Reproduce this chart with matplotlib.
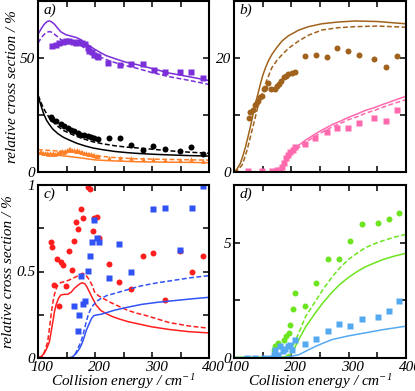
import matplotlib
matplotlib.use("Agg")
import matplotlib.pyplot as plt
from matplotlib.ticker import MultipleLocator, FixedLocator
from matplotlib.transforms import ScaledTranslation

plt.rcParams["font.family"] = ["Liberation Serif", "DejaVu Serif"]
plt.rcParams["font.style"] = "italic"
plt.rcParams["mathtext.fontset"] = "custom"
plt.rcParams["mathtext.rm"] = "Liberation Serif:italic"
plt.rcParams["mathtext.it"] = "Liberation Serif:italic"

# ---------------- panel a ----------------
a_purple_E = [124.6, 131.6, 137.4, 143, 149, 155, 161, 167, 172.5, 178, 183, 187, 190, 195, 199, 203, 206,
              223, 243, 263, 284, 304, 322, 349, 368, 389]
a_purple_v = [55.4, 55.8, 56.4, 56.8, 57.3, 57.6, 56.8, 56.7, 57.0, 56.5, 56.1, 54.2, 53.2, 52.5, 51.4, 50.9, 50.6,
              47.8, 47.0, 47.4, 47.4, 44.6, 44.0, 43.7, 44.0, 41.1]
a_purple_sol_E = [100, 106, 111, 116, 120, 124, 129, 134, 140, 149, 158, 167, 174, 181, 190, 199, 210, 220, 240,
                  255, 272, 300, 330, 365, 400]
a_purple_sol_v = [60.4, 63.0, 64.8, 66.0, 66.3, 65.8, 64.8, 63.2, 61.5, 60.2, 59.6, 59.0, 58.2, 56.8, 55.4, 53.9,
                  52.3, 51.0, 49.3, 48.1, 47.2, 45.4, 43.4, 41.8, 40.1]
a_purple_das_E = [100, 106, 111, 116, 120, 124, 129, 135, 141, 155, 165, 173, 184, 192, 202, 213, 225, 240, 255,
                  272, 300, 330, 365, 400]
a_purple_das_v = [56.5, 59.0, 60.4, 61.3, 61.6, 61.3, 60.4, 59.2, 57.9, 56.8, 56.4, 56.0, 53.9, 52.5, 51.0, 50.0,
                  48.8, 47.6, 46.6, 45.6, 43.6, 41.8, 40.2, 38.4]

a_black_E = [122.8, 125, 131, 140, 146, 152, 158, 164, 170, 175, 181, 187, 193, 199, 205, 224, 244, 263, 284, 302,
             323, 349, 368, 389]
a_black_v = [24.1, 23.4, 22.2, 21.2, 20.2, 19.3, 18.6, 17.9, 16.9, 16.4, 16.1, 15.8, 15.4, 15.0, 14.4, 14.7, 14.7,
             11.8, 9.6, 11.3, 10.3, 9.2, 10.9, 7.7]
a_black_sol_E = [100, 103, 106, 110, 115, 120, 126, 135, 144, 155, 168, 183, 197, 213, 235, 256, 272, 300, 330, 365, 400]
a_black_sol_v = [33.6, 31.0, 28.5, 25.5, 22.7, 20.8, 18.8, 16.8, 15.3, 14.0, 12.6, 11.4, 10.5, 9.8, 9.0, 8.5, 8.2,
                 7.8, 7.5, 7.2, 7.0]
a_black_das_v = [33.6, 32.0, 30.0, 27.8, 25.6, 23.8, 22.0, 20.0, 18.3, 17.0, 15.6, 14.3, 13.2, 12.4, 11.5, 10.9,
                 10.6, 10.0, 9.3, 8.7, 8.2]

a_orange_E = [103, 106, 109, 112, 115, 118, 121, 124, 127, 130, 133, 136, 139, 142, 145, 148, 151, 154, 157, 160,
              163, 166, 169, 172, 175, 178, 181, 184, 187, 190, 193, 196, 199, 202, 205,
              224, 244, 263, 284, 302, 323, 349, 368, 389]
a_orange_v = [8.8, 8.6, 8.4, 8.5, 8.3, 8.1, 8.2, 8.0, 8.3, 8.1, 8.4, 8.6, 8.9, 9.1, 8.9, 9.3, 9.6, 9.9, 10.0, 9.6,
              9.8, 9.4, 9.5, 9.1, 8.8, 8.6, 8.3, 8.5, 8.1, 7.9, 7.8, 7.6, 7.4, 7.2, 7.0,
              6.2, 6.0, 6.2, 5.7, 5.7, 5.2, 5.2, 5.7, 4.8]
a_orange_line_E = [100, 130, 155, 180, 200, 230, 272, 330, 400]
a_orange_sol_v = [8.4, 7.5, 6.8, 6.0, 5.3, 4.9, 4.5, 4.3, 4.1]
a_orange_das_v = [9.8, 9.3, 8.8, 8.0, 7.2, 6.4, 5.8, 5.5, 5.2]

# ---------------- panel b ----------------
b_brown_E = [125.6, 128.5, 132.6, 136, 138, 142, 146, 149, 152, 154.6, 159, 165, 171, 175, 178, 182.5, 187, 191,
             195, 201, 207, 224, 243.5, 262, 279, 299, 318, 344, 364.5, 384]
b_brown_v = [9.5, 10.6, 10.8, 11.7, 11.9, 12.5, 13.1, 13.4, 14.6, 14.7, 15.7, 14.6, 14.6, 15.1, 15.5, 16.0, 16.6,
             16.9, 17.2, 17.4, 17.6, 20.3, 20.5, 20.2, 21.8, 21.3, 20.5, 19.8, 18.4, 20.3]
b_brown_sol_E = [100, 105, 111, 116, 120, 124, 128.5, 133, 137, 142, 146, 150, 155, 160, 166, 175, 184, 195, 213,
                 230, 253, 280, 311, 350, 400]
b_brown_sol_v = [0, 0.5, 1.5, 3.0, 4.4, 6.0, 7.9, 10.0, 11.9, 13.8, 15.4, 16.9, 18.3, 19.5, 20.6, 21.9, 23.0, 23.9,
                 24.9, 25.5, 26.0, 26.3, 26.5, 26.4, 26.0]
b_brown_das_E = [100, 106, 114, 118, 122.7, 127, 131.4, 136, 140, 144, 149, 153, 158, 166, 175, 184, 195, 213, 230,
                 253, 280, 311, 350, 400]
b_brown_das_v = [0, 0.3, 1.2, 2.3, 3.8, 5.5, 7.3, 9.1, 10.8, 12.3, 13.7, 15.0, 16.3, 18.3, 19.6, 20.6, 21.7, 23.0,
                 24.0, 24.9, 25.3, 25.5, 25.6, 25.4]

b_pink_E = [125, 148, 166, 175, 181, 183.7, 188, 191, 194.5, 198.5, 202.6, 207, 223, 242, 262, 279, 299, 318, 344,
            364.5, 384]
b_pink_v = [0.2, 0.2, 0.2, 0.3, 0.4, 0.9, 1.5, 2.4, 3.0, 3.5, 3.9, 4.4, 5.0, 5.9, 7.0, 7.7, 7.7, 8.6, 9.5, 9.0, 10.8]
b_pink_line_E = [100, 120, 150, 170, 178, 185, 190, 196, 205, 213, 225, 242, 256, 271, 285, 300, 315, 329, 345, 358,
                 375, 400]
b_pink_sol_v = [0, 0, 0, 0, 0.1, 0.8, 1.6, 2.9, 3.9, 4.7, 5.6, 6.7, 7.5, 8.3, 8.9, 9.6, 10.2, 10.8, 11.3, 11.8,
                12.4, 13.3]
b_pink_das_v = [0, 0, 0, 0, 0.1, 0.7, 1.4, 2.6, 3.6, 4.3, 5.2, 6.3, 7.1, 7.9, 8.5, 9.2, 9.7, 10.3, 10.8, 11.3,
                11.9, 12.7]

# ---------------- panel c ----------------
c_red_E = [122.8, 124, 128.6, 132.7, 136.3, 140.3, 144.4, 149, 155, 159.6, 163.7, 166.7, 170.7, 175.4, 179.5, 187,
           191, 196, 198.8, 203, 206.4, 224, 242.6, 263, 283.6, 302, 322.8, 349, 369.6, 388.9]
c_red_v = [0.671, 0.64, 0.42, 0.572, 0.299, 0.553, 0.539, 0.414, 0.62, 0.509, 0.678, 0.784, 0.746, 0.863, 0.807,
           0.99, 0.975, 0.732, 0.809, 0.813, 0.694, 0.543, 0.44, 0.40, 0.588, 0.607, 0.333, 0.62, 0.50, 0.591]
c_red_sol_E = [100, 106, 111, 116, 120, 123, 126, 129, 132, 136, 140, 146, 152, 158, 164, 170, 175, 178, 182, 186,
               190, 195, 202, 210, 219, 230, 243, 258, 272, 300, 330, 365, 400]
c_red_sol_v = [0, 0.01, 0.027, 0.06, 0.094, 0.15, 0.21, 0.27, 0.31, 0.345, 0.364, 0.368, 0.368, 0.38, 0.403, 0.42,
               0.432, 0.434, 0.43, 0.41, 0.383, 0.35, 0.306, 0.275, 0.258, 0.24, 0.225, 0.21, 0.2, 0.18, 0.165,
               0.152, 0.145]
c_red_das_E = [100, 108, 113, 117, 120, 123, 126, 129, 132, 135, 140, 146, 155, 167, 173, 178, 182, 186, 190, 195,
               199, 206, 214, 228, 243, 258, 272, 290, 310, 330, 365, 400]
c_red_das_v = [0, 0.01, 0.05, 0.094, 0.17, 0.25, 0.32, 0.37, 0.40, 0.422, 0.436, 0.441, 0.451, 0.47, 0.48, 0.49,
               0.485, 0.47, 0.451, 0.42, 0.383, 0.36, 0.345, 0.32, 0.297, 0.275, 0.26, 0.245, 0.225, 0.205, 0.185,
               0.172]

c_blue_E = [163.7, 169.6, 171.4, 175.4, 178.4, 183, 187, 191, 194.5, 198.8, 203, 206.4, 224, 242.6, 263, 302, 322.8,
            349, 369.6, 388.9]
c_blue_v = [0.30, 0.156, 0.249, 0.476, 0.31, 0.33, 0.503, 0.588, 0.671, 0.796, 0.694, 0.669, 0.46, 0.661, 0.499,
            0.861, 0.867, 0.626, 0.867, 0.992]
c_blue_sol_E = [100, 120, 150, 160, 167, 172, 176, 180, 185, 190, 194, 198, 203, 211, 220, 235, 255, 282, 310, 340,
                370, 400]
c_blue_sol_v = [0, 0, 0, 0.005, 0.027, 0.05, 0.075, 0.11, 0.162, 0.2, 0.229, 0.245, 0.249, 0.253, 0.262, 0.277,
                0.292, 0.31, 0.322, 0.332, 0.342, 0.351]
c_blue_das_E = [165, 170, 175, 179, 184, 188, 192, 197, 204, 211, 220, 235, 255, 282, 310, 340, 370, 400]
c_blue_das_v = [0.02, 0.056, 0.09, 0.133, 0.2, 0.249, 0.28, 0.306, 0.33, 0.345, 0.36, 0.374, 0.393, 0.418, 0.435,
                0.45, 0.465, 0.476]

# ---------------- panel d ----------------
d_green_E = [169.2, 172.1, 176.7, 180.8, 186.6, 190.6, 195.3, 198.2, 202.3, 206.9, 223.2, 243, 263.9, 283.7, 302.9,
             323.2, 350.5, 369.7, 388.3]
d_green_v = [0.36, 0.54, 0.65, 0.54, 0.8, 0.94, 1.09, 1.45, 2.13, 2.8, 2.27, 3.26, 4.3, 4.3, 5.07, 5.8, 5.84, 6.04,
             6.3]
d_green_sol_E = [100, 150, 184, 192, 198, 205, 213, 225, 242, 256, 271, 285, 300, 315, 329, 345, 360, 380, 400]
d_green_sol_v = [0.03, 0.03, 0.03, 0.07, 0.14, 0.4, 0.8, 1.35, 1.96, 2.42, 2.85, 3.2, 3.5, 3.75, 3.95, 4.12, 4.27,
                 4.42, 4.54]
d_green_das_E = [189.5, 195, 201, 207, 213, 225, 242, 256, 271, 285, 300, 315, 329, 345, 358, 380, 400]
d_green_das_v = [0.03, 0.15, 0.4, 0.75, 1.09, 1.8, 2.46, 3.0, 3.51, 3.92, 4.28, 4.55, 4.78, 4.95, 5.07, 5.24, 5.36]

d_lblue_E = [122.7, 137.2, 151.8, 163.4, 169.2, 172.1, 176.7, 180.8, 184.9, 189.5, 194.2, 198.2, 201.2, 206.9,
             224.4, 243, 263.3, 283.7, 302.9, 323.2, 350.5, 369.7, 388.3]
d_lblue_v = [0.0, 0.0, 0.0, 0.0, 0.14, 0.36, 0.14, 0.5, 0.29, 0.39, 0.5, 0.58, 0.36, 0.77, 0.62, 0.84, 1.19, 1.49,
             1.38, 1.7, 1.78, 2.03, 2.46]
d_lblue_sol_E = [100, 150, 185, 192, 200, 213, 228, 242, 256, 271, 300, 329, 360, 400]
d_lblue_sol_v = [0.02, 0.02, 0.02, 0.04, 0.08, 0.14, 0.33, 0.5, 0.65, 0.8, 0.96, 1.09, 1.23, 1.38]

PURPLE = "#7a2fd8"
ORANGE = "#ff7f27"
BROWN = "#a0621c"
PINK = "#ff6aae"
RED = "#ff1e1e"
BLUE = "#3152f5"
GREEN = "#6ce41f"
LBLUE = "#55a9f0"
DASH = (0, (3.2, 1.6))
LW = 1.1
MS_O = 4.3
MS_S = 4.0

fig = plt.figure(figsize=(4.15, 3.91), dpi=100)
W, H = 415.0, 391.0
ax_a = fig.add_axes([38 / W, 1 - 172 / H, 171 / W, 171 / H])
ax_b = fig.add_axes([234 / W, 1 - 172 / H, 172 / W, 171 / H])
ax_c = fig.add_axes([38 / W, 1 - 358 / H, 171 / W, 173 / H])
ax_d = fig.add_axes([234 / W, 1 - 358 / H, 172 / W, 173 / H])
shift = ScaledTranslation(4 / 100, 0, fig.dpi_scale_trans)


def style(ax, ymax, ymajor, yminor, ylabels, bottom, tag):
    ax.set_xlim(100, 400)
    ax.set_ylim(0, ymax)
    ax.xaxis.set_major_locator(MultipleLocator(100))
    ax.xaxis.set_minor_locator(MultipleLocator(50))
    ax.yaxis.set_major_locator(FixedLocator(ymajor))
    ax.yaxis.set_minor_locator(FixedLocator(yminor))
    ax.set_yticklabels(ylabels)
    ax.tick_params(which="both", direction="in", top=True, right=True, length=4, width=1.1,
                   labelsize=11, pad=2)
    if not bottom:
        ax.set_xticklabels([])
    else:
        ax.set_xticks([100, 200, 300, 400])
        ax.set_xticklabels(["100", "200", "300", "400"])
        for lab in ax.get_xticklabels():
            lab.set_transform(lab.get_transform() + shift)
        ax.set_xlabel("Collision energy / cm$^{-1}$", fontsize=11, labelpad=-1)
    for s in ax.spines.values():
        s.set_linewidth(1.5)
    ax.text(0.03, 0.985, tag, transform=ax.transAxes, ha="left", va="top", fontsize=11)


# panel a
ax = ax_a
ax.plot(a_purple_sol_E, a_purple_sol_v, color=PURPLE, lw=LW)
ax.plot(a_purple_das_E, a_purple_das_v, color=PURPLE, lw=LW, ls=DASH)
ax.plot(a_purple_E, a_purple_v, "s", color=PURPLE, ms=MS_S, mec="none")
ax.plot(a_black_sol_E, a_black_sol_v, color="black", lw=LW)
ax.plot(a_black_sol_E, a_black_das_v, color="black", lw=LW, ls=DASH)
ax.plot(a_black_E, a_black_v, "o", color="black", ms=MS_O, mec="none")
ax.plot(a_orange_line_E, a_orange_sol_v, color=ORANGE, lw=LW)
ax.plot(a_orange_line_E, a_orange_das_v, color=ORANGE, lw=LW, ls=DASH)
ax.plot(a_orange_E, a_orange_v, "^", color=ORANGE, ms=3.4, mec="none")
style(ax, 75, [0, 50], [25], ["0", "50"], False, "a)")
ax.set_ylabel("relative cross section / %", fontsize=11, labelpad=1)

# panel b
ax = ax_b
ax.plot(b_brown_sol_E, b_brown_sol_v, color=BROWN, lw=LW)
ax.plot(b_brown_das_E, b_brown_das_v, color=BROWN, lw=LW, ls=DASH)
ax.plot(b_brown_E, b_brown_v, "o", color=BROWN, ms=MS_O, mec="none")
ax.plot(b_pink_line_E, b_pink_sol_v, color=PINK, lw=LW)
ax.plot(b_pink_line_E, b_pink_das_v, color=PINK, lw=LW, ls=DASH)
ax.plot(b_pink_E, b_pink_v, "s", color=PINK, ms=MS_S, mec="none")
style(ax, 30, [0, 20], [10], ["0", "20"], False, "b)")

# panel c
ax = ax_c
ax.plot(c_red_sol_E, c_red_sol_v, color=RED, lw=LW)
ax.plot(c_red_das_E, c_red_das_v, color=RED, lw=LW, ls=DASH)
ax.plot(c_red_E, c_red_v, "o", color=RED, ms=MS_O, mec="none")
ax.plot(c_blue_sol_E, c_blue_sol_v, color=BLUE, lw=LW)
ax.plot(c_blue_das_E, c_blue_das_v, color=BLUE, lw=LW, ls=DASH)
ax.plot(c_blue_E, c_blue_v, "s", color=BLUE, ms=MS_S, mec="none")
style(ax, 1, [0, 0.5, 1], [0.25, 0.75], ["0", "0.5", "1"], True, "c)")
ax.set_ylabel("relative cross section / %", fontsize=11, labelpad=1)

# panel d
ax = ax_d
ax.plot(d_green_sol_E, d_green_sol_v, color=GREEN, lw=LW)
ax.plot(d_green_das_E, d_green_das_v, color=GREEN, lw=LW, ls=DASH)
ax.plot(d_green_E, d_green_v, "o", color=GREEN, ms=MS_O, mec="none")
ax.plot(d_lblue_sol_E, d_lblue_sol_v, color=LBLUE, lw=LW)
ax.plot(d_lblue_E, d_lblue_v, "s", color=LBLUE, ms=MS_S, mec="none")
style(ax, 7.5, [0, 5], [2.5, 7.5], ["0", "5"], True, "d)")

fig.savefig("out.png", dpi=100)
